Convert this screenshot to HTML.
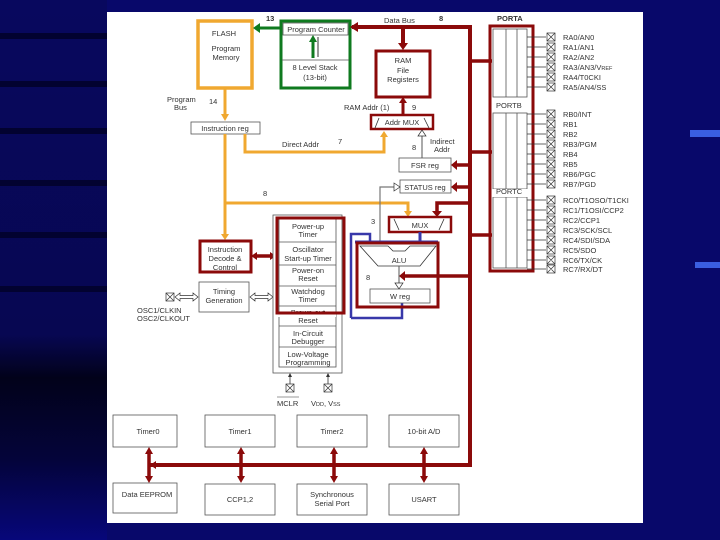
<!DOCTYPE html>
<html><head><meta charset="utf-8"><style>
html,body{margin:0;padding:0;width:720px;height:540px;overflow:hidden;background:#08086a}
svg{display:block}
text{font-family:"Liberation Sans",sans-serif;fill:#333;font-size:7.5px}
</style></head><body>
<svg width="720" height="540" viewBox="0 0 720 540">
<defs>
<linearGradient id="lg" x1="0" y1="0" x2="0" y2="1">
<stop offset="0" stop-color="#08085e"/><stop offset="0.62" stop-color="#070752"/><stop offset="0.7" stop-color="#02021a"/><stop offset="0.85" stop-color="#04043a"/><stop offset="1" stop-color="#07077a"/></linearGradient>
<pattern id="xb" width="8" height="8" patternUnits="userSpaceOnUse"><path d="M0,0L8,8M8,0L0,8" stroke="#333" stroke-width="0.7"/></pattern>
</defs>
<rect width="720" height="540" fill="#08086a"/>
<rect width="107" height="540" fill="url(#lg)"/>
<g fill="#020230"><rect x="0" y="33" width="107" height="6"/><rect x="0" y="81" width="107" height="6"/><rect x="0" y="128" width="107" height="6"/><rect x="0" y="180" width="107" height="6"/><rect x="0" y="232" width="107" height="6"/><rect x="0" y="286" width="107" height="6"/></g>
<rect x="690" y="130" width="30" height="7" fill="#3a5ee0"/>
<rect x="695" y="262" width="25" height="6" fill="#3a5ee0"/>
<rect x="107" y="12" width="536" height="511" fill="#fff"/>

<rect x="198" y="21" width="54" height="67" fill="none" stroke="#f0a830" stroke-width="3.5"/>
<text x="224" y="36" text-anchor="middle">FLASH</text>
<text x="226" y="51" text-anchor="middle">Program</text>
<text x="226" y="60" text-anchor="middle">Memory</text>
<rect x="281" y="21" width="69" height="67" fill="none" stroke="#0f7a1f" stroke-width="3"/>
<rect x="283" y="23" width="65" height="12" fill="none" stroke="#555" stroke-width="0.8"/>
<text x="316" y="32" text-anchor="middle">Program Counter</text>
<line x1="282" y1="60" x2="349" y2="60" stroke="#555" stroke-width="0.8"/>
<text x="315" y="70" text-anchor="middle">8 Level Stack</text>
<text x="315" y="80" text-anchor="middle">(13-bit)</text>
<line x1="313" y1="58" x2="313" y2="40" stroke="#0f7a1f" stroke-width="3"/>
<path d="M309,42L313,35L317,42z" fill="#0f7a1f"/>
<path d="M318,37V57" stroke="#333" stroke-width="1"/>
<line x1="280" y1="28" x2="258" y2="28" stroke="#0f7a1f" stroke-width="3"/>
<path d="M260,23L253,28L260,33z" fill="#0f7a1f"/>
<text x="266" y="21" font-weight="bold">13</text>

<path d="M352,27H470V465H150" fill="none" stroke="#8b0a0a" stroke-width="4"/>
<path d="M358,22L350,27L358,32z" fill="#8b0a0a"/>
<text x="384" y="23">Data Bus</text>
<text x="439" y="21" font-weight="bold">8</text>
<line x1="403" y1="27" x2="403" y2="46" stroke="#8b0a0a" stroke-width="4"/>
<path d="M398,43L403,50L408,43z" fill="#8b0a0a"/>
<rect x="376" y="51" width="54" height="46" fill="none" stroke="#8b0a0a" stroke-width="3"/>
<text x="403" y="63" text-anchor="middle">RAM</text>
<text x="403" y="73" text-anchor="middle">File</text>
<text x="403" y="82" text-anchor="middle">Registers</text>
<line x1="403" y1="114" x2="403" y2="101" stroke="#8b0a0a" stroke-width="3"/>
<path d="M399,103L403,97L407,103z" fill="#8b0a0a"/>
<text x="344" y="110">RAM Addr (1)</text><text x="412" y="110">9</text>
<rect x="371" y="115" width="62" height="14" fill="none" stroke="#8b0a0a" stroke-width="2.5"/>
<path d="M375,128L379,118M424,118L429,128" stroke="#333" stroke-width="0.8"/>
<text x="402" y="125" text-anchor="middle">Addr MUX</text>
<rect x="399" y="158" width="52" height="14" fill="#fff" stroke="#555" stroke-width="0.8"/>
<text x="425" y="168" text-anchor="middle">FSR reg</text>
<rect x="400" y="180" width="51" height="13" fill="#fff" stroke="#555" stroke-width="0.8"/>
<text x="425" y="190" text-anchor="middle">STATUS reg</text>
<path d="M470,165H456M470,187H456M470,203H437V213M470,276H403" stroke="#8b0a0a" stroke-width="3.5" fill="none"/>
<path d="M457,160L451,165L457,170zM457,182L451,187L457,192zM432,211L437,217L442,211zM405,271L399,276L405,281z" fill="#8b0a0a"/>
<path d="M422,158V134" stroke="#555" stroke-width="1"/><path d="M418,136L422,130L426,136z" fill="#fff" stroke="#333" stroke-width="0.7"/>
<text x="430" y="144">Indirect</text><text x="434" y="152">Addr</text><text x="412" y="150">8</text>

<text x="167" y="102">Program</text><text x="174" y="110">Bus</text><text x="209" y="104">14</text>
<line x1="225" y1="89" x2="225" y2="116" stroke="#f0a830" stroke-width="3"/>
<path d="M221,114L225,121L229,114z" fill="#f0a830"/>
<rect x="191" y="122" width="69" height="12" fill="#fff" stroke="#555" stroke-width="0.8"/>
<text x="225" y="131" text-anchor="middle">Instruction reg</text>
<path d="M245,134V152H384V135" fill="none" stroke="#f0a830" stroke-width="3"/>
<path d="M380,137L384,131L388,137z" fill="#f0a830"/>
<text x="282" y="147">Direct Addr</text><text x="338" y="144">7</text>
<path d="M225,134V236M225,203H408V212" fill="none" stroke="#f0a830" stroke-width="3"/>
<path d="M221,234L225,240L229,234zM404,211L408,217L412,211z" fill="#f0a830"/>
<text x="263" y="196">8</text>
<path d="M380,242V187H395" fill="none" stroke="#777" stroke-width="1.2"/>
<path d="M394,183L400,187L394,191z" fill="#fff" stroke="#333" stroke-width="0.7"/>
<text x="371" y="224">3</text>
<rect x="389" y="217" width="62" height="15" fill="none" stroke="#8b0a0a" stroke-width="2.5"/>
<path d="M394,219L399,230M444,219L439,230" stroke="#333" stroke-width="0.8"/>
<text x="420" y="228" text-anchor="middle">MUX</text>
<path d="M351,318V234H370V242M351,318H402V303" fill="none" stroke="#3838aa" stroke-width="2.5"/>
<line x1="355" y1="242" x2="438" y2="242" stroke="#3838aa" stroke-width="3"/>
<line x1="420" y1="232" x2="420" y2="242" stroke="#3838aa" stroke-width="3"/>
<rect x="357" y="243" width="81" height="64" fill="none" stroke="#8b0a0a" stroke-width="3"/>
<path d="M360,246H388L393,251H405L410,246H436L420,266H378z" fill="#fff" stroke="#333" stroke-width="0.8"/>
<text x="399" y="263" text-anchor="middle">ALU</text>
<path d="M399,266V284" stroke="#555" stroke-width="1"/><path d="M395,283L399,289L403,283z" fill="#fff" stroke="#333" stroke-width="0.7"/>
<text x="366" y="280">8</text>
<rect x="370" y="289" width="60" height="14" fill="#fff" stroke="#555" stroke-width="0.8"/>
<text x="400" y="299" text-anchor="middle">W reg</text>

<rect x="490" y="26" width="43" height="245" fill="none" stroke="#8b0a0a" stroke-width="3"/>
<g fill="none" stroke="#555" stroke-width="0.8">
<rect x="493" y="29" width="34" height="68"/><line x1="506" y1="29" x2="506" y2="97"/><line x1="517" y1="29" x2="517" y2="97"/>
<rect x="493" y="113" width="34" height="76"/><line x1="506" y1="113" x2="506" y2="189"/><line x1="517" y1="113" x2="517" y2="189"/>
<rect x="493" y="197" width="34" height="71"/><line x1="506" y1="197" x2="506" y2="268"/><line x1="517" y1="197" x2="517" y2="268"/>
</g>
<rect x="492" y="99" width="39" height="12" fill="#fff"/><rect x="492" y="189" width="39" height="8" fill="#fff"/>
<text x="497" y="21" font-weight="bold">PORTA</text>
<text x="496" y="108">PORTB</text><text x="496" y="194">PORTC</text>
<path d="M470,61H492M470,152H492M470,235H492" stroke="#8b0a0a" stroke-width="3.5"/>
<g stroke="#333" stroke-width="0.8" fill="none">
<path d="M527,37H546M527,47H546M527,57H546M527,67H546M527,77H546M527,87H546M527,114H546M527,124H546M527,134H546M527,144H546M527,154H546M527,164H546M527,174H546M527,184H546M527,200H546M527,210H546M527,220H546M527,230H546M527,240H546M527,250H546M527,260H546M527,269H546"/>
</g>
<g stroke="#333" stroke-width="0.7">
<g fill="#fff"><rect x="547" y="33" width="8" height="8"/><rect x="547" y="43" width="8" height="8"/><rect x="547" y="53" width="8" height="8"/><rect x="547" y="63" width="8" height="8"/><rect x="547" y="73" width="8" height="8"/><rect x="547" y="83" width="8" height="8"/>
<rect x="547" y="110" width="8" height="8"/><rect x="547" y="120" width="8" height="8"/><rect x="547" y="130" width="8" height="8"/><rect x="547" y="140" width="8" height="8"/><rect x="547" y="150" width="8" height="8"/><rect x="547" y="160" width="8" height="8"/><rect x="547" y="170" width="8" height="8"/><rect x="547" y="180" width="8" height="8"/>
<rect x="547" y="196" width="8" height="8"/><rect x="547" y="206" width="8" height="8"/><rect x="547" y="216" width="8" height="8"/><rect x="547" y="226" width="8" height="8"/><rect x="547" y="236" width="8" height="8"/><rect x="547" y="246" width="8" height="8"/><rect x="547" y="256" width="8" height="8"/><rect x="547" y="265" width="8" height="8"/></g>
<path fill="none" d="M547,33l8,8m0-8l-8,8M547,43l8,8m0-8l-8,8M547,53l8,8m0-8l-8,8M547,63l8,8m0-8l-8,8M547,73l8,8m0-8l-8,8M547,83l8,8m0-8l-8,8M547,110l8,8m0-8l-8,8M547,120l8,8m0-8l-8,8M547,130l8,8m0-8l-8,8M547,140l8,8m0-8l-8,8M547,150l8,8m0-8l-8,8M547,160l8,8m0-8l-8,8M547,170l8,8m0-8l-8,8M547,180l8,8m0-8l-8,8M547,196l8,8m0-8l-8,8M547,206l8,8m0-8l-8,8M547,216l8,8m0-8l-8,8M547,226l8,8m0-8l-8,8M547,236l8,8m0-8l-8,8M547,246l8,8m0-8l-8,8M547,256l8,8m0-8l-8,8M547,265l8,8m0-8l-8,8"/>
</g>
<g>
<text x="563" y="40">RA0/AN0</text><text x="563" y="50">RA1/AN1</text><text x="563" y="60">RA2/AN2</text><text x="563" y="70">RA3/AN3/V<tspan font-size="5.5">REF</tspan></text><text x="563" y="80">RA4/T0CKI</text><text x="563" y="90">RA5/AN4/SS</text>
<text x="563" y="117">RB0/INT</text><text x="563" y="127">RB1</text><text x="563" y="137">RB2</text><text x="563" y="147">RB3/PGM</text><text x="563" y="157">RB4</text><text x="563" y="167">RB5</text><text x="563" y="177">RB6/PGC</text><text x="563" y="187">RB7/PGD</text>
<text x="563" y="203">RC0/T1OSO/T1CKI</text><text x="563" y="213">RC1/T1OSI/CCP2</text><text x="563" y="223">RC2/CCP1</text><text x="563" y="233">RC3/SCK/SCL</text><text x="563" y="243">RC4/SDI/SDA</text><text x="563" y="253">RC5/SDO</text><text x="563" y="263">RC6/TX/CK</text><text x="563" y="272">RC7/RX/DT</text>
</g>

<rect x="200" y="241" width="51" height="31" fill="none" stroke="#8b0a0a" stroke-width="3"/>
<text x="225" y="252" text-anchor="middle">Instruction</text><text x="225" y="261" text-anchor="middle">Decode &amp;</text><text x="225" y="270" text-anchor="middle">Control</text>
<path d="M255,256H272" stroke="#8b0a0a" stroke-width="3.5"/>
<path d="M257,252L251,256L257,260zM270,252L276,256L270,260z" fill="#8b0a0a"/>
<rect x="199" y="282" width="50" height="30" fill="#fff" stroke="#555" stroke-width="0.8"/>
<text x="224" y="294" text-anchor="middle">Timing</text><text x="224" y="303" text-anchor="middle">Generation</text>
<rect x="166" y="293" width="8" height="8" fill="#fff" stroke="#333" stroke-width="0.7"/>
<path d="M166,293L174,301M174,293L166,301" stroke="#333" stroke-width="0.7"/>
<path d="M175,297L180,293V295.5H193V293L198,297L193,301V298.5H180V301z" fill="#fff" stroke="#333" stroke-width="0.7"/>
<path d="M250,297L255,293V295.5H268V293L273,297L268,301V298.5H255V301z" fill="#fff" stroke="#333" stroke-width="0.7"/>
<text x="137" y="313">OSC1/CLKIN</text><text x="137" y="321">OSC2/CLKOUT</text>
<rect x="273" y="215" width="69" height="158" fill="#fff" stroke="#555" stroke-width="0.8"/>
<g fill="none" stroke="#555" stroke-width="0.8">
<rect x="279" y="219" width="57" height="148"/>
<path d="M279,242H336M279,265H336M279,286H336M279,306H336M279,326H336M279,347H336"/>
</g>
<g text-anchor="middle">
<text x="308" y="229">Power-up</text><text x="308" y="237">Timer</text>
<text x="308" y="252">Oscillator</text><text x="308" y="261">Start-up Timer</text>
<text x="308" y="273">Power-on</text><text x="308" y="281">Reset</text>
<text x="308" y="294">Watchdog</text><text x="308" y="302">Timer</text>
<text x="308" y="315">Brown-out</text><text x="308" y="323">Reset</text>
<text x="308" y="336">In-Circuit</text><text x="308" y="344">Debugger</text>
<text x="308" y="357">Low-Voltage</text><text x="308" y="365">Programming</text>
</g>
<rect x="278" y="313" width="58" height="4" fill="#fff"/>
<rect x="277" y="218" width="67" height="95" fill="none" stroke="#8b0a0a" stroke-width="3"/>
<path d="M290,384V375M328,384V375" stroke="#333" stroke-width="0.8"/>
<path d="M288,377L290,373L292,377zM326,377L328,373L330,377z" fill="#333"/>
<g stroke="#333" stroke-width="0.7" fill="#fff"><rect x="286" y="384" width="8" height="8"/><rect x="324" y="384" width="8" height="8"/></g>
<path d="M286,384L294,392M294,384L286,392M324,384L332,392M332,384L324,392" stroke="#333" stroke-width="0.7"/>
<text x="277" y="406">MCLR</text><line x1="277" y1="397" x2="299" y2="397" stroke="#333" stroke-width="0.6"/>
<text x="311" y="406">V<tspan font-size="5.5">DD</tspan>, V<tspan font-size="5.5">SS</tspan></text>

<g fill="#fff" stroke="#555" stroke-width="0.8">
<rect x="113" y="415" width="64" height="32"/><rect x="205" y="415" width="70" height="32"/><rect x="297" y="415" width="70" height="32"/><rect x="389" y="415" width="70" height="32"/>
<rect x="113" y="483" width="64" height="30"/><rect x="205" y="484" width="70" height="31"/><rect x="297" y="484" width="70" height="31"/><rect x="389" y="484" width="70" height="31"/>
</g>
<g text-anchor="middle">
<text x="148" y="434">Timer0</text><text x="240" y="434">Timer1</text><text x="332" y="434">Timer2</text><text x="424" y="434">10-bit A/D</text>
<text x="147" y="497">Data EEPROM</text><text x="240" y="502">CCP1,2</text><text x="332" y="497">Synchronous</text><text x="332" y="506">Serial Port</text><text x="424" y="502">USART</text>
</g>
<g stroke="#8b0a0a" stroke-width="3.5"><path d="M149,453V477M241,453V477M334,453V477M424,453V477"/></g>
<g fill="#8b0a0a"><path d="M145,454L149,447L153,454zM145,476L149,483L153,476zM237,454L241,447L245,454zM237,476L241,483L245,476zM330,454L334,447L338,454zM330,476L334,483L338,476zM420,454L424,447L428,454zM420,476L424,483L428,476z"/></g>
<path d="M156,461L150,465L156,469z" fill="#8b0a0a"/>
</svg>
</body></html>
